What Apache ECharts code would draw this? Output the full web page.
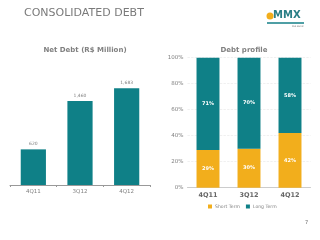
<!DOCTYPE html>
<html>
<head>
<meta charset="utf-8">
<script src="https://cdn.jsdelivr.net/npm/echarts@6/dist/echarts.min.js"></script>
<style>
body { margin: 0px; background: #fff; }
#main { width: 320px; height: 240px; }
</style>
</head>
<body>
<div id="main"></div>
<script>
var quarters = ['4Q11', '3Q12', '4Q12'];
var netDebt = [620, 1460, 1683];
var shortTerm = [29, 30, 42];
var longTerm = [71, 70, 58];
var pctTicks = ['0%', '20%', '40%', '60%', '80%', '100%'];

var teal = '#0F8087';
var yellow = '#F2AE1C';
var grey = '#808080';
var font = 'DejaVu Sans';

function fmt(v) {
	return v >= 1000 ? Math.floor(v / 1000) + ',' + String(v % 1000).padStart(3, '0') : String(v);
}

var myChart = echarts.init(document.getElementById('main'));

var option = {
	animation: false,
	textStyle: { fontFamily: font },
	title: [
		{ text: 'CONSOLIDATED DEBT', left: 19, top: 3, textStyle: { fontSize: 11, fontWeight: 'normal', color: '#7a7a7a', fontFamily: font } },
		{ text: 'Net Debt (R$ Million)', left: 80, top: 42, textAlign: 'center', textStyle: { fontSize: 7, fontWeight: 'bold', color: grey, fontFamily: font } },
		{ text: 'Debt profile', left: 239, top: 42, textAlign: 'center', textStyle: { fontSize: 7, fontWeight: 'bold', color: grey, fontFamily: font } }
	],
	legend: {
		data: ['Short Term', 'Long Term'],
		orient: 'horizontal', left: 203, top: 199, width: 110,
		itemWidth: 4, itemHeight: 4, itemGap: 6,
		icon: 'rect',
		textStyle: { fontSize: 4.6, color: grey, fontFamily: font, padding: [0, 0, 0, -2] }
	},
	grid: [
		{ left: 10, right: 170, top: 60, bottom: 55 },
		{ left: 187.5, right: 9.5, top: 57.7, bottom: 52.3 }
	],
	xAxis: [
		{
			gridIndex: 0, type: 'category', data: quarters,
			axisLine: { lineStyle: { color: '#999' } },
			axisTick: { show: true, length: 2, lineStyle: { color: '#999' } },
			axisLabel: { fontSize: 5.5, color: grey, margin: 4 }
		},
		{
			gridIndex: 1, type: 'category', data: quarters,
			axisLine: { lineStyle: { color: '#ccc' } },
			axisTick: { show: false },
			axisLabel: { fontSize: 6.5, color: '#666', fontWeight: 'bold', margin: 4 }
		}
	],
	yAxis: [
		{ gridIndex: 0, type: 'value', min: 0, max: 2175, show: false },
		{
			gridIndex: 1, type: 'value', min: 0, max: 100, interval: 20,
			axisLine: { show: false }, axisTick: { show: false },
			axisLabel: { fontSize: 5.5, color: grey, margin: 4, formatter: function (v) { return pctTicks[v / 20]; } },
			splitLine: { lineStyle: { color: '#e6e6e6', type: 'dashed', width: 0.6 } }
		}
	],
	series: [
		{
			name: 'Net Debt', type: 'bar', xAxisIndex: 0, yAxisIndex: 0,
			data: netDebt, barWidth: '54%',
			itemStyle: { color: teal },
			label: { show: true, position: 'top', fontSize: 4.5, color: grey, distance: 3, formatter: function (p) { return fmt(p.value); } }
		},
		{
			name: 'Short Term', type: 'bar', stack: 'p', xAxisIndex: 1, yAxisIndex: 1,
			data: shortTerm, barWidth: '56%',
			itemStyle: { color: yellow },
			label: { show: true, position: 'inside', fontSize: 5, fontWeight: 'bold', color: '#fff', formatter: '{c}%' }
		},
		{
			name: 'Long Term', type: 'bar', stack: 'p', xAxisIndex: 1, yAxisIndex: 1,
			data: longTerm, barWidth: '56%',
			itemStyle: { color: teal },
			label: { show: true, position: 'inside', fontSize: 5, fontWeight: 'bold', color: '#fff', formatter: '{c}%' }
		}
	],
	graphic: [
		{ type: 'circle', shape: { cx: 270, cy: 16, r: 3.5 }, style: { fill: yellow } },
		{ type: 'text', left: 273, top: 10, style: { text: 'MMX', fontSize: 10, fontWeight: 'bold', fill: '#2a7f86', fontFamily: font } },
		{ type: 'rect', shape: { x: 267, y: 22, width: 37, height: 2 }, style: { fill: '#4f9fa5' } },
		{ type: 'text', left: 292, top: 25, style: { text: 'EBX GROUP', fontSize: 2, fill: '#666', fontFamily: font } },
		{ type: 'text', left: 305, top: 220, style: { text: '7', fontSize: 5, fill: '#666', fontFamily: font } }
	]
};

myChart.setOption(option);
</script>
</body>
</html>
